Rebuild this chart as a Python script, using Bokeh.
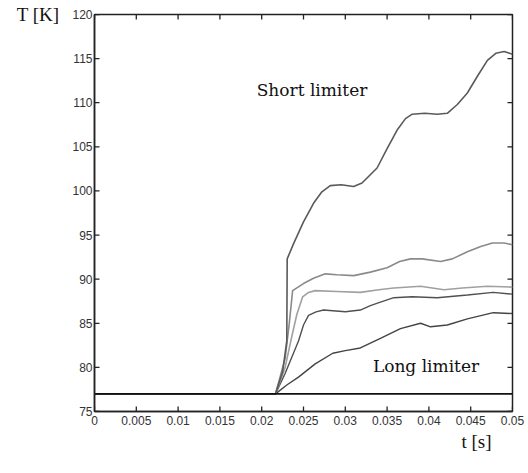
from bokeh.plotting import figure
from bokeh.models import Range1d, FixedTicker, Label, Title
from bokeh.embed import file_html
from bokeh.resources import INLINE

# ---- data ----
x_ticks = [0, 0.005, 0.01, 0.015, 0.02, 0.025, 0.03, 0.035, 0.04, 0.045, 0.05]
x_tick_labels = ["0", "0.005", "0.01", "0.015", "0.02", "0.025", "0.03", "0.035", "0.04", "0.045", "0.05"]
y_ticks = [75, 80, 85, 90, 95, 100, 105, 110, 115, 120]
x_lim = [0, 0.05]
y_lim = [75, 120]

base_t = [0, 0.05]
base_T = [77, 77]

short_t = [0, 0.02165, 0.0225, 0.0230, 0.02305, 0.0238, 0.0250, 0.0262, 0.0272, 0.0282, 0.0295, 0.0310,
           0.0320, 0.0338, 0.0350, 0.0362, 0.0372, 0.0380, 0.0395, 0.0410, 0.0422, 0.0434, 0.0446,
           0.0458, 0.0470, 0.0480, 0.0490, 0.0500]
short_T = [77, 77, 79.5, 83, 92.3, 94.0, 96.5, 98.6, 99.9, 100.6, 100.7, 100.5,
           100.9, 102.6, 104.8, 106.9, 108.2, 108.7, 108.8, 108.7, 108.8, 109.8, 111.1,
           113.0, 114.8, 115.6, 115.8, 115.5]

c2_t = [0, 0.02165, 0.0228, 0.0233, 0.0237, 0.0250, 0.0262, 0.0276, 0.0290, 0.0310, 0.0330, 0.0350,
        0.0365, 0.0378, 0.0392, 0.0414, 0.0428, 0.0446, 0.0462, 0.0476, 0.0490, 0.0500]
c2_T = [77, 77, 81, 85, 88.7, 89.5, 90.1, 90.6, 90.5, 90.4, 90.8, 91.3,
        92.0, 92.3, 92.3, 92.0, 92.3, 93.1, 93.7, 94.1, 94.1, 93.9]

c3_t = [0, 0.02165, 0.0228, 0.0236, 0.0242, 0.0249, 0.0256, 0.0264, 0.0290, 0.0318, 0.0340, 0.0358,
        0.0390, 0.0418, 0.0440, 0.0470, 0.0500]
c3_T = [77, 77, 80, 83.5, 86, 88.0, 88.5, 88.7, 88.6, 88.5, 88.8, 89.0,
        89.2, 88.8, 89.0, 89.2, 89.1]

c4_t = [0, 0.02165, 0.0228, 0.0244, 0.0250, 0.0256, 0.0265, 0.0274, 0.0300, 0.0318, 0.0330, 0.0342,
        0.0358, 0.0380, 0.0410, 0.0446, 0.0477, 0.0500]
c4_T = [77, 77, 79.3, 83, 84.8, 85.9, 86.3, 86.5, 86.3, 86.5, 87.0, 87.4,
        87.9, 88.0, 87.9, 88.2, 88.5, 88.3]

c5_t = [0, 0.02165, 0.0230, 0.0244, 0.0264, 0.0285, 0.0300, 0.0318, 0.0342, 0.0366, 0.0390, 0.0402,
        0.0422, 0.0446, 0.0477, 0.0500]
c5_T = [77, 77, 78.0, 78.9, 80.4, 81.6, 81.9, 82.2, 83.3, 84.4, 85.0, 84.6,
        84.8, 85.5, 86.2, 86.1]

# ---- layout ----
W, H = 528, 473
B_LEFT, B_RIGHT, B_TOP, B_BOTTOM = 94, 16, 14, 62
FRAME_W = W - B_LEFT - B_RIGHT
FRAME_H = H - B_TOP - B_BOTTOM
TICK_PX = 5

p = figure(width=W, height=H, output_backend="svg", toolbar_location=None,
           x_range=Range1d(*x_lim), y_range=Range1d(*y_lim),
           min_border_left=B_LEFT, min_border_right=B_RIGHT, min_border_top=B_TOP, min_border_bottom=B_BOTTOM)
p.background_fill_color = "white"
p.border_fill_color = "white"
p.grid.visible = False
p.outline_line_color = "#222222"
p.outline_line_width = 1.5

label_font = "Liberation Sans"
serif = "DejaVu Serif"
serif_generic = "serif"

for ax in (p.xaxis[0], p.yaxis[0]):
    ax.axis_line_color = "#222222"
    ax.axis_line_width = 1.5
    ax.major_tick_in = 0
    ax.major_tick_out = 0
    ax.minor_tick_line_color = None
    ax.major_tick_line_color = None
    ax.major_label_text_font = label_font
    ax.major_label_text_font_size = "12px"
    ax.major_label_text_color = "#333333"

p.xaxis[0].ticker = FixedTicker(ticks=x_ticks)
p.xaxis[0].major_label_overrides = {t: s for t, s in zip(x_ticks, x_tick_labels)}
p.xaxis[0].major_label_standoff = 4
p.yaxis[0].ticker = FixedTicker(ticks=y_ticks)
p.yaxis[0].major_label_standoff = 2

# y caption "T [K]": horizontal, at the top of the left axis
p.yaxis[0].axis_label = "T [K]"
p.yaxis[0].axis_label_orientation = "horizontal"
p.yaxis[0].axis_label_align = "end"
p.yaxis[0].axis_label_standoff = 10
p.yaxis[0].axis_label_text_font = serif_generic
p.yaxis[0].axis_label_text_font_size = "19px"
p.yaxis[0].axis_label_text_font_style = "normal"
p.yaxis[0].axis_label_text_color = "#111111"

# x caption "t [s]" below, toward the right
p.add_layout(Title(text="t [s]", align="right", offset=21, text_font=serif_generic, text_font_size="19px",
                   text_font_style="normal", text_color="#111111", standoff=2), "below")

# inward ticks on all four sides, drawn as one NaN-separated line per side
nan = float("nan")
dx = TICK_PX * (x_lim[1] - x_lim[0]) / FRAME_W
dy = TICK_PX * (y_lim[1] - y_lim[0]) / FRAME_H
tick_col = "#222222"


def side_ticks(pairs):
    xs, ys = [], []
    for (xa, ya, xb, yb) in pairs:
        xs += [xa, xb, nan]
        ys += [ya, yb, nan]
    return xs, ys


left_x, left_y = side_ticks([(x_lim[0], y, x_lim[0] + dx, y) for y in y_ticks])
right_x, right_y = side_ticks([(x_lim[1], y, x_lim[1] - dx, y) for y in y_ticks])
bot_x, bot_y = side_ticks([(x, y_lim[0], x, y_lim[0] + dy) for x in x_ticks])
top_x, top_y = side_ticks([(x, y_lim[1], x, y_lim[1] - dy) for x in x_ticks])
for xs, ys in ((left_x, left_y), (right_x, right_y), (bot_x, bot_y), (top_x, top_y)):
    p.line(xs, ys, line_color=tick_col, line_width=1.3)

# ---- curves ----
p.line(c5_t, c5_T, line_color="#444444", line_width=1.4)
p.line(c4_t, c4_T, line_color="#505050", line_width=1.4)
p.line(c3_t, c3_T, line_color="#a0a0a0", line_width=1.6)
p.line(c2_t, c2_T, line_color="#8a8a8a", line_width=1.6)
p.line(short_t, short_T, line_color="#5a5a5a", line_width=1.6)
p.line(base_t, base_T, line_color="#111111", line_width=1.8)

# ---- texts ----
p.add_layout(Label(x=0.0194, y=111.4, text="Short limiter", text_font=serif, text_font_size="17px",
                   text_color="#111111", text_baseline="middle", text_align="left"))
p.add_layout(Label(x=0.0333, y=80.2, text="Long limiter", text_font=serif, text_font_size="17px",
                   text_color="#111111", text_baseline="middle", text_align="left"))

open("out.html", "w").write(file_html(p, INLINE))
